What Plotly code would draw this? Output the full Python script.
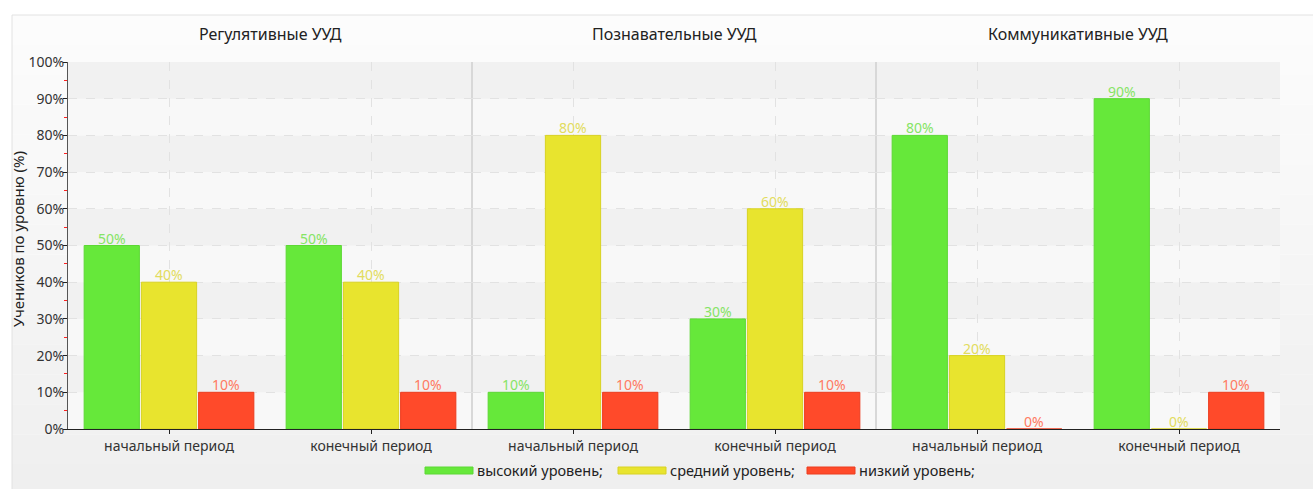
import plotly.graph_objects as go
from plotly.subplots import make_subplots

# --- data -------------------------------------------------------------
groups = ["Регулятивные УУД", "Познавательные УУД", "Коммуникативные УУД"]
periods = ["начальный период", "конечный период"]
series_names = ["высокий уровень;", "средний уровень;", "низкий уровень;"]

# percent of pupils per level, per group: [начальный, конечный]
high = [[50, 50], [10, 30], [80, 90]]
medium = [[40, 40], [80, 60], [20, 0]]
low = [[10, 10], [10, 10], [0, 10]]

y_ticks = [0, 10, 20, 30, 40, 50, 60, 70, 80, 90, 100]
y_title = "Учеников по уровню (%)"

# --- styling ----------------------------------------------------------
fill_colors = ["#66E83A", "#E8E42E", "#FF4A2A"]
edge_colors = ["#5CD834", "#D8D222", "#EC3C1E"]
text_colors = ["#86E465", "#E2DC5E", "#FF7A62"]
FONT = "Noto Sans"

W, H = 1313, 489
L, R, T, B = 68, 33, 62, 60
plot_w = W - L - R
plot_h = H - T - B
BARGAP = 0.15
BARGROUPGAP = 0.035
n_series = 3
# pixel distance between neighbouring bar centres inside a category slot
bar_px = plot_w / 3 / len(periods) * (1 - BARGAP) / n_series


def px_x(px):
    return (px - L) / plot_w


def px_y(py):
    return (H - B - py) / plot_h


fig = make_subplots(rows=1, cols=3, shared_yaxes=True, horizontal_spacing=0)

annotations = []
all_series = [high, medium, low]
for gi in range(len(groups)):
    axis_suffix = "" if gi == 0 else str(gi + 1)
    for si, values in enumerate(all_series):
        vals = values[gi]
        fig.add_trace(
            go.Bar(
                x=periods,
                y=vals,
                name=series_names[si],
                marker=dict(color=fill_colors[si],
                            line=dict(color=edge_colors[si], width=1)),
                showlegend=False,
                hoverinfo="skip",
            ),
            row=1, col=gi + 1,
        )
        # value label sitting on top of each bar
        for pi, v in enumerate(vals):
            annotations.append(dict(
                text=f"{v}%", xref="x" + axis_suffix, yref="y" + axis_suffix,
                x=periods[pi], y=v, xshift=(si - (n_series - 1) / 2) * bar_px,
                yshift=-4, xanchor="center", yanchor="bottom",
                showarrow=False,
                font=dict(size=14, color=text_colors[si], family=FONT)))

shapes = []

# outer chart frame with soft vertical gradient
x0f, x1f = px_x(12), px_x(W + 5)
top_px, bot_px = 15, H + 5
n_strips = 16
for k in range(n_strips):
    t = k / (n_strips - 1)
    c = int(round(252 - t * (252 - 239)))
    y_top = top_px + (bot_px - top_px) * k / n_strips
    y_bot = top_px + (bot_px - top_px) * (k + 1) / n_strips
    shapes.append(dict(type="rect", xref="paper", yref="paper",
                       x0=x0f, x1=x1f, y0=px_y(y_bot), y1=px_y(y_top),
                       fillcolor=f"rgb({c},{c},{c})", line=dict(width=0),
                       layer="below"))
shapes.append(dict(type="rect", xref="paper", yref="paper",
                   x0=x0f, x1=x1f, y0=px_y(bot_px), y1=px_y(top_px),
                   fillcolor="rgba(0,0,0,0)",
                   line=dict(color="#E2E2E2", width=1), layer="below"))

# alternating horizontal bands inside the plot area
for i in range(len(y_ticks) - 1):
    lo, hi = y_ticks[i], y_ticks[i + 1]
    col = "#F1F1F1" if i % 2 == 1 else "#F8F8F8"
    shapes.append(dict(type="rect", xref="paper", yref="y",
                       x0=0, x1=1, y0=lo, y1=hi,
                       fillcolor=col, line=dict(width=0), layer="below"))

# separators between groups
for xs in (1 / 3, 2 / 3):
    shapes.append(dict(type="line", xref="paper", yref="paper",
                       x0=xs, x1=xs, y0=0, y1=1,
                       line=dict(color="#D8D8D8", width=2), layer="below"))

# group titles
for gi, g in enumerate(groups):
    annotations.append(dict(text=g, xref="paper", yref="paper",
                            x=(gi + 0.5) / 3, y=px_y(34),
                            xanchor="center", yanchor="middle",
                            showarrow=False,
                            font=dict(size=16, color="#222222", family=FONT)))

# y-axis title
annotations.append(dict(text=y_title, xref="paper", yref="paper",
                        x=px_x(18), y=px_y(239), textangle=-90,
                        xanchor="center", yanchor="middle", showarrow=False,
                        font=dict(size=15, color="#222222", family=FONT)))

# legend: wide colour swatches with labels
legend_swatch_px = [425, 618, 807]
sw_w = 48
for si, name in enumerate(series_names):
    x0 = legend_swatch_px[si]
    shapes.append(dict(type="rect", xref="paper", yref="paper",
                       x0=px_x(x0), x1=px_x(x0 + sw_w),
                       y0=px_y(474), y1=px_y(467),
                       fillcolor=fill_colors[si],
                       line=dict(color=edge_colors[si], width=1)))
    annotations.append(dict(text=name, xref="paper", yref="paper",
                            x=px_x(x0 + sw_w + 2), y=px_y(470),
                            xanchor="left", yanchor="middle", showarrow=False,
                            font=dict(size=14.5, color="#222222", family=FONT)))

fig.update_layout(
    width=W, height=H,
    margin=dict(l=L, r=R, t=T, b=B, pad=0),
    paper_bgcolor="white",
    plot_bgcolor="rgba(0,0,0,0)",
    barmode="group",
    bargap=BARGAP,
    bargroupgap=BARGROUPGAP,
    font=dict(family=FONT, size=14, color="#333333"),
    shapes=shapes,
    annotations=annotations,
    showlegend=False,
)

for i in range(1, 4):
    fig.update_xaxes(
        row=1, col=i,
        range=[-0.5, 1.5],
        showline=True, linecolor="#222222", linewidth=1,
        ticks="outside", ticklen=4, tickcolor="#222222",
        showgrid=True, gridcolor="#E2E2E2", griddash="dash", gridwidth=1,
        tickfont=dict(size=14, color="#333333", family=FONT),
        zeroline=False, fixedrange=True,
    )

fig.update_yaxes(
    range=[0, 100],
    tickvals=y_ticks,
    ticktext=[f"{v}%" for v in y_ticks],
    showline=True, linecolor="#555555", linewidth=1,
    ticks="outside", ticklen=4, tickcolor="#222222",
    ticklabelstandoff=-4,
    minor=dict(dtick=5, ticks="outside", ticklen=3, tickcolor="#FF2020",
               showgrid=False),
    showgrid=True, gridcolor="#E2E2E2", griddash="dash", gridwidth=1,
    zeroline=False,
    tickfont=dict(size=14, color="#333333", family=FONT),
    row=1, col=1,
)
for i in (2, 3):
    fig.update_yaxes(row=1, col=i, range=[0, 100], tickvals=y_ticks,
                     showgrid=True, gridcolor="#E2E2E2", griddash="dash",
                     showline=False, ticks="", showticklabels=False,
                     zeroline=False)

fig.write_html("out.html")
